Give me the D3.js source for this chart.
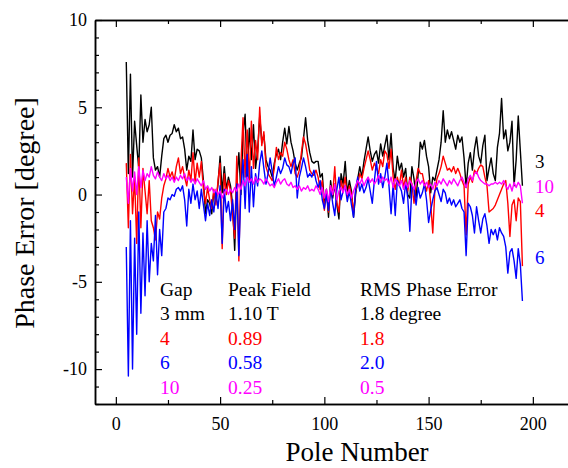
<!DOCTYPE html>
<html>
<head>
<meta charset="utf-8">
<script src="https://cdn.jsdelivr.net/npm/d3@7"></script>
<style>
  html, body { margin: 0; padding: 0; background: #fff; overflow: hidden; }
  svg { display: block; }
</style>
</head>
<body>
<div id="chart"></div>
<script>
// pole numbers 5..195
const poles = d3.range(5, 196);

// phase error [degree], one value per pole
const gap3 = [
  7.6, 1.2, 6.9, 1.0, 4.2, 2.8, 1.5, 5.7, 3.0, 4.3,
  3.6, 4.0, 5.0, 2.1, 1.4, 1.6, 1.0, 2.2, 3.2, 3.4,
  3.0, 3.4, 3.5, 4.0, 3.6, 3.8, 3.2, 3.3, 2.6, 1.4,
  2.2, 1.9, 3.7, 2.0, 2.6, 2.5, 2.1, 0.8, -1.1, -0.3,
  -0.5, -1.1, 0.2, -0.4, 0.6, 2.2, 0.1, 1.6, 0.3, 1.0,
  0.5, -0.6, -3.2, 0.8, 2.4, 0.0, 3.5, 4.6, 1.0, 3.8,
  2.0, 4.0, 1.5, 2.5, 4.5, 3.0, 3.4, 2.0, 1.6, 1.4,
  1.0, 1.8, 2.3, 2.6, 2.0, 3.0, 3.8, 2.9, 3.9, 3.0,
  2.5, 1.8, 1.4, 1.8, 2.1, 3.2, 4.4, 3.1, 2.4, 1.9,
  1.8, 1.9, 1.9, 1.0, 1.2, -0.5, 0.3, -1.3, 0.8, -0.2,
  0.6, -0.6, -1.4, 1.2, 0.6, 1.9, 0.1, 0.8, 0.2, -1.3,
  0.0, 0.9, 1.6, 1.0, 1.9, 2.6, 3.3, 2.5, 1.9, 2.3,
  2.5, 1.8, 2.9, 2.2, 2.8, 3.4, 2.0, 3.5, 1.5, 0.8,
  2.2, 1.4, 1.8, 1.0, 1.5, 0.0, -0.2, 1.6, 0.9, -0.2,
  1.2, 3.0, 2.6, 3.1, 2.2, 1.6, 0.1, 1.0, 0.8, 1.4,
  2.0, 3.0, 4.8, 3.0, 3.7, 3.2, 3.6, 3.1, 2.6, 3.4,
  3.0, 3.3, 2.1, 0.4, 1.8, 2.4, 1.4, 2.6, 3.3, 2.2,
  1.8, 2.8, 3.4, 0.8, 1.5, 2.1, 1.2, 0.8, 2.7, 3.5,
  5.5, 3.2, 3.7, 2.5, 3.0, 4.2, 0.5, 2.0, 4.5, 2.5,
  0.5
];
const gap4 = [
  1.8, -1.9, 2.3, -1.1, 1.0, -2.8, 2.1, -1.9, 1.5, 0.2,
  -1.1, 0.8, -1.5, -1.9, -2.6, -1.0, -1.4, -0.2, 0.5, 0.9,
  1.5, 1.0, 1.3, 0.8, 1.6, 2.1, 1.2, 1.6, 1.0, 0.5,
  1.4, 0.8, 2.4, 0.7, 1.8, 1.0, 1.9, 0.3, -0.5, 0.4,
  -0.3, -0.8, 0.3, -0.6, 0.8, 1.8, -3.1, 1.2, 0.0, 0.8,
  0.2, -1.2, -2.5, 2.2, -3.8, 1.8, 4.4, 1.0, 3.7, 0.8,
  4.2, 1.5, 3.1, 2.0, 5.0, 2.8, 3.6, 1.6, 1.2, 1.0,
  0.8, 1.5, 2.7, 2.0, 2.4, 2.2, 3.0, 2.6, 2.0, 1.6,
  2.0, 1.2, 1.0, 1.4, 2.4, 3.3, 2.9, 2.2, 1.4, 1.2,
  1.1, 1.4, 1.0, 0.3, 0.8, -0.9, 0.2, -1.0, 0.5, 0.0,
  1.6, -0.5, -1.0, 0.8, 0.3, 1.0, -0.2, 0.5, 0.0, -1.0,
  0.2, 0.6, 1.2, 0.9, 1.5, 2.0, 2.5, 2.0, 1.4, 1.8,
  1.5, 1.2, 2.0, 1.6, 2.5, 2.3, 1.5, 2.6, 1.0, 0.3,
  1.0, 0.5, 1.4, 0.4, 1.0, 0.2, 1.0, 0.6, -0.5, 0.8,
  1.5, 1.2, 1.2, 0.6, 0.2, 0.8, -0.5, -2.2, 0.2, 0.9,
  1.2, 1.6, 2.2, 1.8, 1.4, 1.5, 1.3, 1.6, 1.2, 1.5,
  1.2, 0.8, 0.5, -2.3, 0.6, 1.0, 0.7, 1.4, 1.2, 1.5,
  1.7, 1.6, 1.0, 0.5, -1.0, -0.9, -0.8, -0.6, -0.3, 0.0,
  0.3, 0.6, 0.8, -0.5, -2.4, -0.6, -0.3, -1.5, -0.2, -0.4,
  -4.1
];
const gap6 = [
  -3.0, -10.4, -1.5, -10.0, -2.5, -8.0, -1.0, -6.8, -2.2, -5.8,
  -1.5, -5.0, -2.8, -3.8, -1.2, -4.6, -2.0, -3.5, -1.0, -0.8,
  -0.2, -0.3, 0.0, -0.1, 0.3, 0.4, 0.2, 0.5, -0.3, -1.8,
  0.3, -0.5, 0.6, -0.3, 0.2, -0.8, 0.3, -0.6, -1.5, -0.5,
  -1.2, -0.3, -1.0, 0.2, -0.8, 0.5, -2.8, 0.3, -1.0, -0.4,
  -1.5, -0.3, -2.0, 0.6, -3.5, 0.3, 2.0, -0.8, 2.3, -1.0,
  1.6, -0.7, 1.2, 0.5, 1.8, 2.5, 1.5, 0.6, 1.2, 2.1,
  1.3, 0.5, 1.0, 1.6, 1.2, 1.5, 2.1, 1.7, 1.6, 1.2,
  1.8, 2.1, -0.2, 1.0, 1.5, 2.1, 1.6, 1.0, 1.2, 1.0,
  1.4, 0.8, 0.4, 0.8, -0.3, -0.8, 0.0, -0.9, 0.4, -0.5,
  -1.2, 0.3, 1.0, -0.3, 0.2, 0.5, -0.4, 0.2, -0.6, -1.3,
  0.3, 1.0, 0.2, 0.6, 0.1, 0.4, 0.9, 0.2, -0.5, 0.8,
  1.9, 0.6, 1.2, 0.4, 1.0, 1.8, 0.5, -1.1, 0.6, -1.2,
  0.8, 0.5, 0.2, -0.5, 0.7, -0.2, -2.1, 0.5, 0.3, -0.6,
  0.4, -0.2, 0.1, 0.6, -0.3, -1.6, -0.9, -0.3, 0.2, 0.4,
  0.0, -0.4, 0.3, 0.1, -0.5, -0.2, -0.6, -0.3, -0.7, -0.5,
  -0.3, -0.8, -1.0, -3.5, -0.5, -0.7, -1.2, -2.2, -0.7, -1.5,
  -2.2, -1.4, -1.1, -1.8, -2.8, -2.0, -2.3, -2.0, -2.6, -1.9,
  -2.2, -2.4, -3.0, -4.5, -3.3, -3.1, -3.8, -4.8, -3.1, -4.0,
  -6.1
];
const gap10 = [
  1.0, -0.5, 1.5, 0.2, 1.3, 0.0, 1.6, 0.4, 1.4, 0.8,
  1.2, 1.0, 1.6, 1.1, 0.9, 1.3, 1.0, 0.8, 1.2, 0.9,
  1.1, 0.8, 1.0, 0.7, 1.0, 0.8, 1.1, 0.9, 1.2, 0.8,
  1.0, 0.7, 0.9, 0.6, 0.9, 0.7, 0.5, 0.8, 0.3, 0.5,
  0.2, 0.4, 0.1, 0.3, 0.0, 0.2, -0.2, 0.1, 0.3, 0.0,
  0.3, 0.1, 0.4, 0.2, 0.6, 0.3, 0.8, 0.5, 1.0, 0.7,
  0.9, 0.6, 1.0, 0.7, 0.9, 0.8, 0.6, 0.9, 0.7, 0.5,
  0.6, 0.4, 0.7, 0.9, 0.6, 0.8, 0.9, 0.6, 0.5, 0.7,
  0.4, 0.5, 0.3, 0.5, 0.2, 0.4, 0.3, 0.5, 0.2, 0.3,
  0.2, 0.5, 0.3, 0.0, 0.4, -0.2, 0.3, -0.4, 0.5, 0.0,
  0.6, -0.3, 0.2, 0.4, 0.1, 0.5, 0.0, 0.3, -0.2, 0.2,
  0.5, 0.8, 0.6, 0.9, 0.5, 0.8, 1.0, 0.7, 0.9, 0.6,
  0.8, 1.1, 0.7, 1.0, 0.8, 0.9, 0.6, 1.0, 0.4, 0.9,
  0.7, 0.5, 0.8, 0.3, 0.7, 0.4, 0.8, 0.6, 0.3, 0.7,
  0.9, 0.6, 0.8, 0.5, 0.7, 0.4, 0.6, 0.3, 0.7, 0.5,
  0.8, 0.6, 0.9, 0.7, 0.5, 0.8, 0.6, 0.9, 0.7, 0.5,
  0.8, 1.0, 0.7, 0.4, 0.9, 1.1, 0.8, 1.2, 1.3, 1.0,
  0.8, 0.7, 0.6, 0.6, 0.5, 0.6, 0.6, 0.7, 0.6, 0.7,
  0.6, 0.8, 0.5, 0.3, 0.6, 0.2, 0.7, 0.4, 0.7, 0.5,
  -0.5
];

// legend table
const gapLabels = ["3 mm", "4", "6", "10"];
const peakField = ["1.10 T", "0.89", "0.58", "0.25"];
const rmsError = ["1.8 degree", "1.8", "2.0", "0.5"];
const endLabels = ["3", "4", "6", "10"];

// axes
const xTicks = [0, 50, 100, 150, 200];
const xMinorTicks = [25, 75, 125, 175];
const yTicks = [-10, -5, 0, 5, 10];
const yMinorTicks = [-12, -11, -9, -8, -7, -6, -4, -3, -2, -1, 1, 2, 3, 4, 6, 7, 8, 9];

const series = [
  { name: "3", values: gap3, color: "#000000" },
  { name: "4", values: gap4, color: "#ff0000" },
  { name: "6", values: gap6, color: "#0000ff" },
  { name: "10", values: gap10, color: "#ff00ff" }
];
const colorOf = { "3": "#000000", "4": "#ff0000", "6": "#0000ff", "10": "#ff00ff" };

const width = 568, height = 468;
const font = "'Liberation Serif', 'Times New Roman', serif";

const x = d3.scaleLinear().domain([-10, 220]).range([95, 95 + 230 * 2.085]);
const y = d3.scaleLinear().domain([-12, 10]).range([404, 20]);

const svg = d3.select("#chart").append("svg")
  .attr("width", width)
  .attr("height", height)
  .style("font-family", font);

svg.append("defs").append("clipPath").attr("id", "plot")
  .append("rect")
  .attr("x", x(-10)).attr("y", y(10))
  .attr("width", x(220) - x(-10)).attr("height", y(-12) - y(10));

// lines
const line = d3.line()
  .x((d, i) => x(poles[i]))
  .y(d => y(d));

svg.append("g").attr("clip-path", "url(#plot)")
  .selectAll("path")
  .data(series)
  .join("path")
  .attr("d", d => line(d.values))
  .attr("fill", "none")
  .attr("stroke", d => d.color)
  .attr("stroke-width", 1.4)
  .attr("stroke-linejoin", "round");

// axes (ticks pointing inward)
function styleAxis(g) {
  g.select(".domain").attr("stroke-width", 1.5);
  g.selectAll(".tick line").attr("stroke-width", 1.2);
  g.selectAll("text").style("font-family", font).style("font-size", "18px").attr("fill", "#000");
}

svg.append("g")
  .attr("transform", `translate(0,${y(-12)})`)
  .call(d3.axisBottom(x).tickValues(xTicks).tickSizeInner(-7).tickSizeOuter(0).tickPadding(13))
  .call(styleAxis);
svg.append("g")
  .attr("transform", `translate(0,${y(-12)})`)
  .call(d3.axisBottom(x).tickValues(xMinorTicks).tickSizeInner(-4).tickSizeOuter(0).tickFormat(""))
  .call(styleAxis);

svg.append("g")
  .attr("transform", `translate(0,${y(10)})`)
  .call(d3.axisTop(x).tickValues(xTicks).tickSizeInner(-7).tickSizeOuter(0).tickFormat(""))
  .call(styleAxis);
svg.append("g")
  .attr("transform", `translate(0,${y(10)})`)
  .call(d3.axisTop(x).tickValues(xMinorTicks).tickSizeInner(-4).tickSizeOuter(0).tickFormat(""))
  .call(styleAxis);

svg.append("g")
  .attr("transform", `translate(${x(-10)},0)`)
  .call(d3.axisLeft(y).tickValues(yTicks).tickSizeInner(-7).tickSizeOuter(0).tickPadding(8)
    .tickFormat(d => String(d)))
  .call(styleAxis);
svg.append("g")
  .attr("transform", `translate(${x(-10)},0)`)
  .call(d3.axisLeft(y).tickValues(yMinorTicks).tickSizeInner(-4).tickSizeOuter(0).tickFormat(""))
  .call(styleAxis);

// axis titles
svg.append("text")
  .attr("x", 357)
  .attr("y", 461)
  .attr("text-anchor", "middle")
  .style("font-size", "27px")
  .text("Pole Number");

svg.append("text")
  .attr("transform", "translate(34,213) rotate(-90)")
  .attr("text-anchor", "middle")
  .style("font-size", "28px")
  .text("Phase Error [degree]");

// legend table
const rowY = [320, 344.5, 369, 393.5];
const rowColor = gapLabels.map(g => colorOf[g.split(" ")[0]]);
const table = svg.append("g").style("font-size", "19.5px");
table.append("text").attr("x", 160).attr("y", 296).text("Gap");
table.append("text").attr("x", 228).attr("y", 296).text("Peak Field");
table.append("text").attr("x", 360).attr("y", 296).text("RMS Phase Error");
[gapLabels, peakField, rmsError].forEach((col, c) => {
  table.selectAll(null)
    .data(col)
    .join("text")
    .attr("x", [160, 228, 360][c])
    .attr("y", (d, i) => rowY[i])
    .attr("fill", (d, i) => rowColor[i])
    .text(d => d);
});

// labels at line ends
const endY = { "3": 167.5, "10": 192.5, "4": 216.5, "6": 264 };
svg.append("g").style("font-size", "19px")
  .selectAll("text")
  .data(endLabels)
  .join("text")
  .attr("x", 535)
  .attr("y", d => endY[d])
  .attr("fill", d => colorOf[d])
  .text(d => d);
</script>
</body>
</html>
